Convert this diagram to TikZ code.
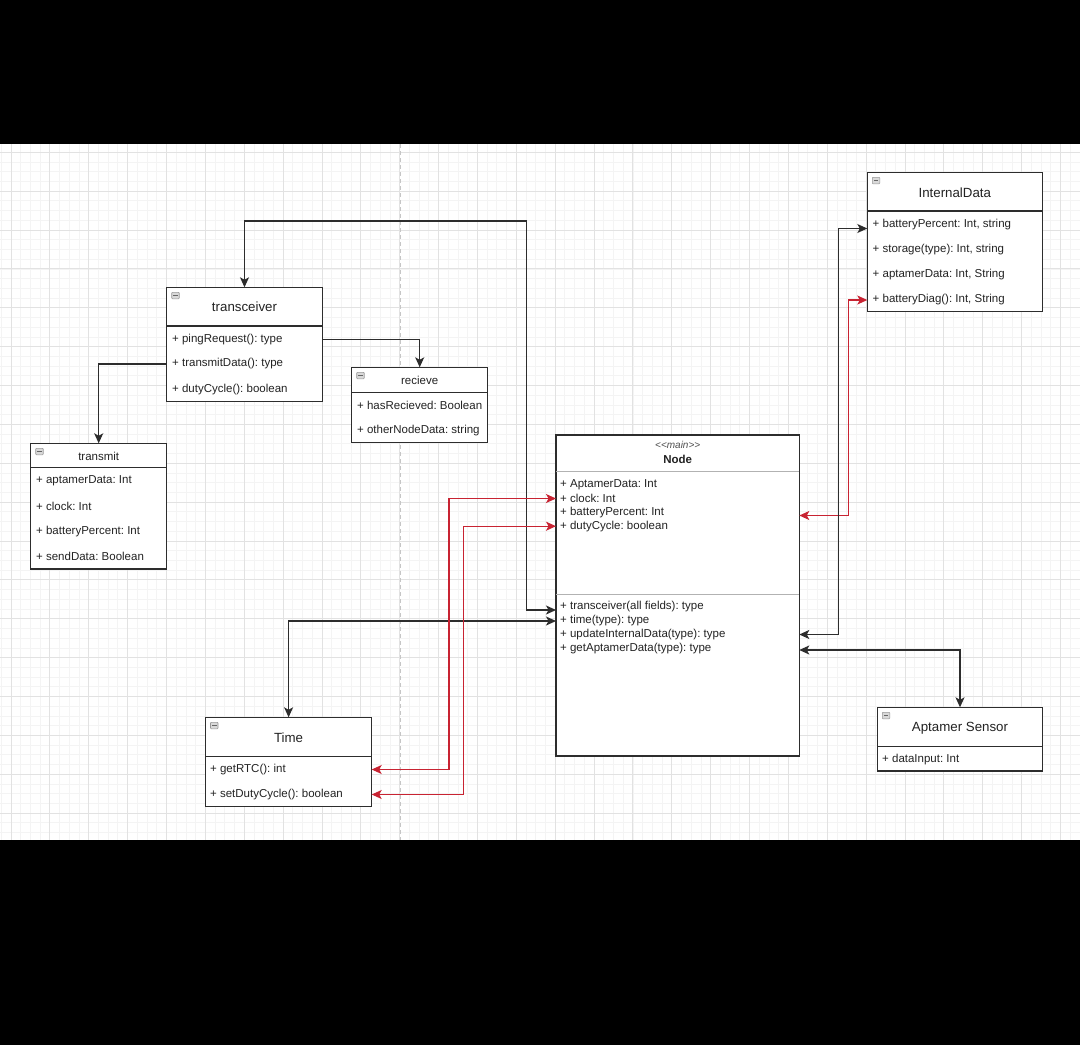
\documentclass[tikz,border=0pt]{standalone}
\usepackage{fontspec}
\setmainfont{Liberation Sans}
\newfontfamily\plainsans{Liberation Sans}
\usetikzlibrary{arrows.meta,calc}
\definecolor{ln}{RGB}{45,45,45}
\definecolor{tx}{RGB}{35,35,35}
\definecolor{rd}{RGB}{200,35,50}
\definecolor{gminorc}{RGB}{244,244,244}
\definecolor{gmajorc}{RGB}{226,226,226}
\newcommand{\minusicon}[1]{%
  \draw[draw=gray!80, fill=gray!30, line width=0.6pt, rounded corners=0.8pt] ($(#1.north west)+(5,5)$) rectangle ++(7.5,6.5);
  \draw[gray!80!black, line width=0.8pt] ($(#1.north west)+(6.5,8.25)$) -- ++(4.5,0);}
\begin{document}
\frenchspacing
\begin{tikzpicture}[x=1pt,y=-1pt,
  box/.style={draw=ln,line width=1.1pt,fill=white,anchor=north west,inner sep=0pt,outer sep=0pt},
  row/.style={anchor=west,inner sep=0pt,text=tx,font=\fontsize{11.5}{13}\selectfont},
  ttl/.style={inner sep=0pt,text=tx,font=\fontsize{13.3}{15}\selectfont},
  sttl/.style={inner sep=0pt,text=tx,font=\fontsize{11.5}{13}\selectfont},
  hdr/.style={draw=ln,line width=1.1pt},
  ndiv/.style={draw=gray!60,line width=1pt},
  conn/.style={draw=ln,line width=1.2pt},
  redc/.style={draw=rd,line width=1.2pt},
  biarrow/.style={{Stealth[length=10pt,width=9pt,inset=2.5pt]}-{Stealth[length=10pt,width=9pt,inset=2.5pt]}},
  onearrow/.style={-{Stealth[length=10pt,width=9pt,inset=2.5pt]}},
  gminor/.style={draw=gminorc,line width=0.8pt},
  gmajor/.style={draw=gmajorc,line width=0.9pt}
]
\useasboundingbox (0,0) rectangle (1080,1045);
% background
\fill[black] (0,0) rectangle (1080,144);
\fill[black] (0,840) rectangle (1080,1045);
\fill[white] (0,144) rectangle (1080,840);
\foreach \k in {0,...,111} \draw[gminor] ({1.28+9.7175*\k},144) -- ++(0,696);
\foreach \k in {0,...,70} \draw[gminor] (0,{152.3+9.7175*\k}) -- ++(1080,0);
\foreach \k in {0,...,27} \draw[gmajor] ({11+38.87*\k},144) -- ++(0,696);
\foreach \k in {0,...,17} \draw[gmajor] (0,{152.3+38.87*\k}) -- ++(1080,0);
\draw[gray!45,dash pattern=on 4pt off 3pt,line width=0.8pt] (400.7,144) -- (400.7,840);

% ---------- transceiver
\node[box,minimum width=155.6pt,minimum height=114.4pt] (trans) at (166.7,287.3) {};
\draw[hdr] (trans.west|-0,326) -- (trans.east|-0,326);
\node[ttl] (transT) at (244.5,306.7) {transceiver};
\node[row] (tr1) at (172,339.3) {+ pingRequest(): type};
\node[row] (tr2) at (172,364) {+ transmitData(): type};
\node[row] (tr3) at (172,389.3) {+ dutyCycle(): boolean};
\minusicon{trans}

% ---------- recieve
\node[box,minimum width=136pt,minimum height=75.4pt] (recv) at (351.7,367.3) {};
\draw[hdr] (recv.west|-0,392.3) -- (recv.east|-0,392.3);
\node[sttl] (recvT) at (419.7,380) {recieve};
\node[row] (rc1) at (357,405.3) {+ hasRecieved: Boolean};
\node[row] (rc2) at (357,430.7) {+ otherNodeData: string};
\minusicon{recv}

% ---------- transmit
\node[box,minimum width=136pt,minimum height=125.7pt] (transm) at (30.7,443.3) {};
\draw[hdr] (transm.west|-0,467.7) -- (transm.east|-0,467.7);
\node[sttl] (transmT) at (98.7,456.7) {transmit};
\node[row] (tm1) at (36,480.7) {+ aptamerData: Int};
\node[row] (tm2) at (36,506) {+ clock: Int};
\node[row] (tm3) at (36,531.7) {+ batteryPercent: Int};
\node[row] (tm4) at (36,556.7) {+ sendData: Boolean};
\minusicon{transm}

% ---------- InternalData
\node[box,minimum width=175pt,minimum height=139.4pt] (idata) at (867.3,172.3) {};
\draw[hdr] (idata.west|-0,211) -- (idata.east|-0,211);
\node[ttl] (idataT) at (954.8,192.3) {InternalData};
\node[row] (id1) at (872.5,225) {+ batteryPercent: Int, string};
\node[row] (id2) at (872.5,249.3) {+ storage(type): Int, string};
\node[row] (id3) at (872.5,274.3) {+ aptamerData: Int, String};
\node[row] (id4) at (872.5,300) {+ batteryDiag(): Int, String};
\minusicon{idata}

% ---------- Node (main)
\node[box,minimum width=243.3pt,minimum height=321pt] (nodeb) at (556,435) {};
\draw[ndiv] (nodeb.west|-0,471.7) -- (nodeb.east|-0,471.7);
\draw[ndiv] (nodeb.west|-0,594) -- (nodeb.east|-0,594);
\node[inner sep=0pt,text=tx!80,font=\plainsans\itshape\fontsize{10}{12}\selectfont] (stereo) at (677.7,445) {<<main>>};
\node[inner sep=0pt,text=tx,font=\bfseries\fontsize{11.5}{13}\selectfont] (nodeT) at (677.7,459) {Node};
\node[row] (na1) at (560,484.3) {+ AptamerData: Int};
\node[row] (na2) at (560,498.5) {+ clock: Int};
\node[row] (na3) at (560,512.3) {+ batteryPercent: Int};
\node[row] (na4) at (560,526.2) {+ dutyCycle: boolean};
\node[row] (nm1) at (560,606.7) {+ transceiver(all fields): type};
\node[row] (nm2) at (560,621) {+ time(type): type};
\node[row] (nm3) at (560,634.5) {+ updateInternalData(type): type};
\node[row] (nm4) at (560,648.3) {+ getAptamerData(type): type};

% ---------- Time
\node[box,minimum width=166.2pt,minimum height=89.4pt] (time) at (205.5,717.3) {};
\draw[hdr] (time.west|-0,756.7) -- (time.east|-0,756.7);
\node[ttl] (timeT) at (288.6,738) {Time};
\node[row] (ti1) at (210,769.5) {+ getRTC(): int};
\node[row] (ti2) at (210,794.5) {+ setDutyCycle(): boolean};
\minusicon{time}

% ---------- Aptamer Sensor
\node[box,minimum width=165.4pt,minimum height=63.7pt] (apt) at (877.3,707.3) {};
\draw[hdr] (apt.west|-0,746.7) -- (apt.east|-0,746.7);
\node[ttl] (aptT) at (960,728.3) {Aptamer Sensor};
\node[row] (ap1) at (882,760) {+ dataInput: Int};
\minusicon{apt}

% ---------- connectors
\draw[conn,biarrow] (nodeb.west|-0,610) -| (526.7,221) -| (trans.north);
\draw[conn,biarrow] (nodeb.west|-nm2) -| (time.north);
\draw[redc,biarrow] (nodeb.west|-na2) -| (449,769.5) -- (time.east|-ti1);
\draw[redc,biarrow] (nodeb.west|-na4) -| (463.3,794.5) -- (time.east|-ti2);
\draw[redc,biarrow] (nodeb.east|-0,515.5) -| (848.3,300) -- (idata.west|-id4);
\draw[conn,biarrow] (nodeb.east|-0,634.5) -| (838.3,228.5) -- (idata.west|-0,228.5);
\draw[conn,biarrow] (nodeb.east|-0,650) -| (apt.north);
\draw[conn,onearrow] (trans.east|-tr1) -| (recv.north);
\draw[conn,onearrow] (trans.west|-tr2) -| (transm.north);
\end{tikzpicture}
\end{document}
